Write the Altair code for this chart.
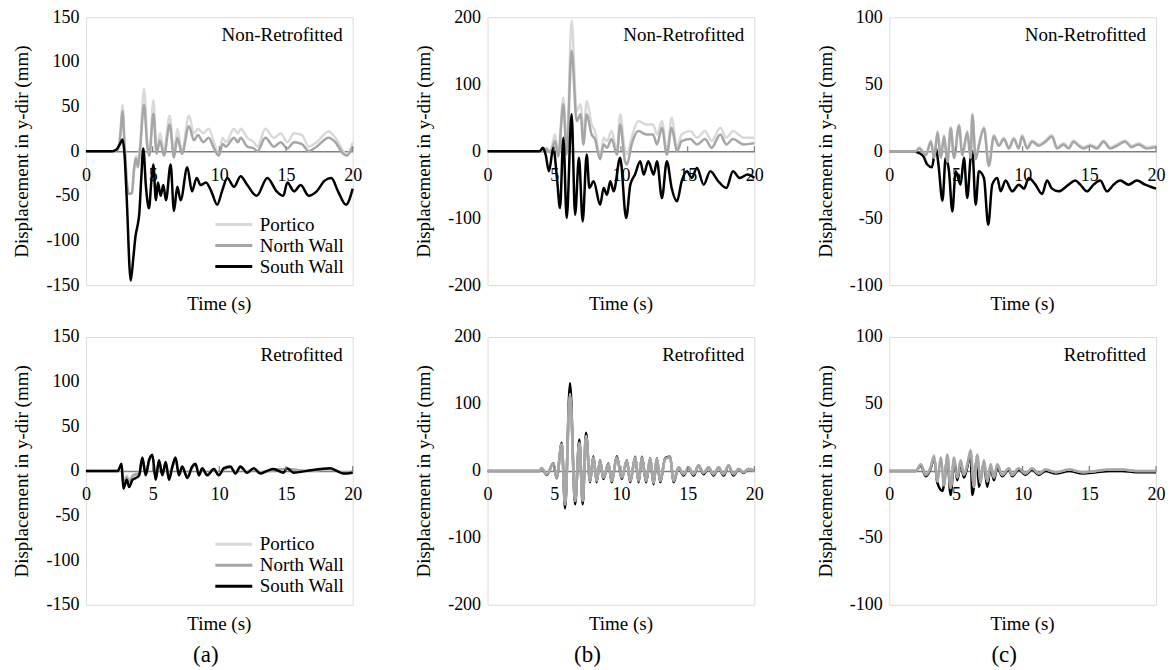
import altair as alt
import pandas as pd

FONT = "Liberation Serif, Times New Roman, serif"
SERIES = ["Portico", "North Wall", "South Wall"]
COLORS = ["#d9d9d9", "#a6a6a6", "#000000"]
TIME_TICKS = [0, 5, 10, 15, 20]
MINOR_TICKS = [5, 10, 15, 20]

Y_TICKS_A = [-150, -100, -50, 0, 50, 100, 150]
Y_TICKS_B = [-200, -100, 0, 100, 200]
Y_TICKS_C = [-100, -50, 0, 50, 100]

# ---------- (a) Non-Retrofitted ----------
A_TOP_PORTICO = [(0, 0), (2.0, 0), (2.4, 3), (2.6, 25), (2.74, 52), (2.9, 10), (3.1, -40), (3.24, -48), (3.45, -47),
                 (3.6, -20), (3.75, -5), (3.9, -15), (4.05, 5), (4.36, 70), (4.6, 10), (4.75, -5), (5.06, 57), (5.3, 0),
                 (5.55, 20), (5.85, 0), (6.28, 40), (6.6, -5), (6.85, 25), (7.2, 0), (7.72, 40), (8.1, 20), (8.4, 25),
                 (8.8, 20), (9.2, 25), (9.6, 10), (9.96, -5), (10.25, 15), (10.5, 10), (11.1, 25), (11.4, 20), (11.6, 25),
                 (12.1, 15), (12.6, 10), (12.85, 5), (13.45, 25), (14.1, 15), (14.6, 20), (15.1, 10), (15.6, 20),
                 (16.2, 18), (16.7, 5), (17.3, 10), (18.2, 22), (18.7, 15), (19.3, 0), (19.55, -5), (20, 10)]
A_TOP_NORTH = [(0, 0), (2.0, 0), (2.4, 2), (2.6, 20), (2.74, 45), (2.9, 5), (3.1, -40), (3.24, -48), (3.45, -47),
               (3.6, -22), (3.75, -8), (3.9, -18), (4.05, 0), (4.36, 52), (4.6, 5), (4.75, -5), (5.06, 42), (5.3, -3),
               (5.55, 12), (5.85, -5), (6.28, 30), (6.6, -7), (6.85, 15), (7.2, -3), (7.72, 28), (8.1, 12), (8.4, 18),
               (8.8, 10), (9.2, 15), (9.6, 3), (9.96, -5), (10.25, 8), (10.5, 5), (11.1, 15), (11.4, 10), (11.6, 15),
               (12.1, 5), (12.6, 3), (12.85, 0), (13.45, 15), (14.1, 5), (14.6, 10), (15.1, 3), (15.6, 10),
               (16.2, 8), (16.7, 0), (17.3, 5), (18.2, 15), (18.7, 10), (19.3, -3), (19.55, -5), (20, 5)]
A_TOP_SOUTH = [(0, 0), (1.0, 0), (2.0, 0), (2.3, 2), (2.55, 8), (2.74, 13), (2.9, -5), (3.05, -50), (3.36, -145),
               (3.55, -120), (3.72, -95), (3.85, -85), (4.0, -70), (4.15, -30), (4.3, 3), (4.5, -40), (4.73, -64),
               (4.9, -35), (5.05, -15), (5.25, -55), (5.4, -35), (5.6, -50), (5.8, -38), (6.0, -55), (6.35, -15),
               (6.6, -67), (6.85, -40), (7.1, -55), (7.6, -18), (7.95, -45), (8.3, -30), (8.6, -38), (9.0, -35),
               (9.4, -45), (9.84, -60), (10.2, -45), (10.6, -30), (11.1, -40), (11.6, -28), (12.1, -38), (12.8, -50),
               (13.6, -30), (14.3, -45), (14.8, -50), (15.1, -35), (15.6, -45), (16.1, -38), (16.7, -50), (17.3, -45),
               (17.9, -33), (18.4, -30), (18.9, -45), (19.5, -60), (20, -42)]

# ---------- (b) Non-Retrofitted ----------
B_TOP_PORTICO = [(0, 0), (3.9, 0), (4.4, 5), (4.7, 0), (5.06, 25), (5.3, -5), (5.68, 80), (5.93, 0), (6.3, 195),
                 (6.68, 60), (6.98, 70), (7.18, 20), (7.43, 75), (7.8, 40), (8.05, 30), (8.44, -10), (8.7, 20),
                 (8.95, 15), (9.3, 30), (9.7, 0), (9.94, 55), (10.3, 0), (10.45, -5), (10.8, 20), (11.3, 45),
                 (11.9, 40), (12.4, 40), (12.7, 25), (13.07, 45), (13.44, 0), (13.8, 50), (14.2, 5), (14.55, 25),
                 (15.2, 30), (15.7, 20), (16.3, 30), (16.8, 15), (17.45, 35), (17.9, 20), (18.4, 30), (19.2, 20), (20, 20)]
B_TOP_NORTH = [(0, 0), (3.9, 0), (4.4, 3), (4.7, -2), (5.06, 15), (5.3, -8), (5.68, 70), (5.93, -5), (6.3, 150),
               (6.68, 45), (6.98, 55), (7.18, 10), (7.43, 55), (7.8, 25), (8.05, 18), (8.44, -12), (8.7, 10),
               (8.95, 5), (9.3, 18), (9.7, -5), (9.94, 40), (10.3, -15), (10.45, -20), (10.8, 10), (11.3, 30),
               (11.9, 25), (12.4, 25), (12.7, 10), (13.07, 35), (13.44, -5), (13.8, 35), (14.2, 0), (14.55, 15),
               (15.2, 18), (15.7, 10), (16.3, 18), (16.8, 5), (17.45, 25), (17.9, 10), (18.4, 18), (19.2, 10), (20, 12)]
B_TOP_SOUTH = [(0, 0), (3.9, 0), (4.15, 5), (4.35, -5), (4.6, -30), (4.93, 5), (5.2, -40), (5.43, -85), (5.68, 20),
               (5.93, -100), (6.3, 55), (6.56, -95), (6.85, -10), (7.13, -105), (7.43, -5), (7.63, -55), (7.95, -45),
               (8.44, -80), (8.7, -55), (8.95, -65), (9.2, -45), (9.45, -60), (9.94, -10), (10.39, -100), (10.7, -50),
               (11.05, -35), (11.45, -15), (11.7, -35), (12.05, -15), (12.45, -35), (12.7, -15), (13.07, -70),
               (13.44, -15), (13.8, -55), (14.2, -75), (14.55, -45), (14.95, -30), (15.3, -40), (15.7, -25),
               (16.2, -50), (16.7, -30), (17.3, -45), (17.9, -55), (18.4, -30), (18.9, -40), (19.5, -35), (20, -40)]

# ---------- (c) Non-Retrofitted ----------
C_TOP_PORTICO = [(0, 0), (2.0, 0), (2.25, 3), (2.75, -3), (3.12, 8), (3.37, -5), (3.62, 15), (3.87, -5), (4.11, 12),
                 (4.36, -8), (4.61, 18), (4.86, -5), (5.23, 20), (5.48, -3), (5.85, 15), (6.1, -5), (6.23, 28),
                 (6.48, -5), (6.72, 5), (7.1, 18), (7.47, -10), (7.84, 12), (8.22, 5), (8.59, 10), (8.97, 3),
                 (9.34, 10), (9.71, 3), (9.96, 12), (10.34, 3), (10.71, 8), (11.21, 5), (11.71, 8), (12.2, 12),
                 (12.58, 3), (13.07, 6), (13.45, 3), (13.82, 8), (14.2, 5), (14.57, 3), (15.07, 5), (15.57, 3),
                 (16.07, 8), (16.56, 3), (17.06, 5), (17.68, 8), (18.18, 4), (18.68, 6), (19.3, 3), (20, 4)]
C_TOP_NORTH = [(0, 0), (2.0, 0), (2.25, 2), (2.75, -3), (3.12, 7), (3.37, -5), (3.62, 14), (3.87, -5), (4.11, 11),
               (4.36, -8), (4.61, 17), (4.86, -5), (5.23, 19), (5.48, -3), (5.85, 14), (6.1, -5), (6.23, 27),
               (6.48, -6), (6.72, 4), (7.1, 17), (7.47, -11), (7.84, 11), (8.22, 4), (8.59, 9), (8.97, 2),
               (9.34, 9), (9.71, 2), (9.96, 11), (10.34, 2), (10.71, 7), (11.21, 4), (11.71, 7), (12.2, 11),
               (12.58, 2), (13.07, 5), (13.45, 2), (13.82, 7), (14.2, 4), (14.57, 2), (15.07, 4), (15.57, 2),
               (16.07, 7), (16.56, 2), (17.06, 4), (17.68, 7), (18.18, 3), (18.68, 5), (19.3, 2), (20, 3)]
C_TOP_SOUTH = [(0, 0), (1.7, 0), (2.5, -3), (2.85, -10), (3.2, -12), (3.49, 3), (3.69, -10), (3.99, -37), (4.23, -5),
               (4.48, -15), (4.73, -45), (4.98, -15), (5.35, -25), (5.6, -5), (5.85, -35), (6.1, -5), (6.23, 0),
               (6.48, -40), (6.72, -15), (7.1, -20), (7.42, -55), (7.72, -25), (8.1, -20), (8.35, -30), (8.72, -22),
               (9.22, -30), (9.72, -25), (10.1, -28), (10.46, -20), (10.96, -25), (11.46, -32), (11.83, -22),
               (12.2, -28), (12.7, -30), (13.45, -25), (13.95, -22), (14.32, -25), (14.82, -30), (15.32, -25),
               (15.82, -22), (16.32, -30), (16.82, -25), (17.32, -22), (17.94, -25), (18.56, -22), (19.18, -25), (20, -28)]

# ---------- (a) Retrofitted ----------
A_BOT_PORTICO = [(0, 0), (2.4, 0), (2.67, 6), (2.81, -12), (3.06, -5), (3.24, -10), (3.49, -5), (3.74, -3), (3.99, -2),
                 (4.23, 13), (4.48, -4), (4.73, 10), (4.98, 16), (5.23, -8), (5.48, 10), (5.73, -4), (5.98, 9),
                 (6.23, -8), (6.48, 4), (6.72, 13), (6.97, -4), (7.22, 4), (7.6, -6), (7.97, 4), (8.22, 7), (8.47, -4),
                 (8.72, 2), (9.09, -4), (9.59, 2), (9.96, -4), (10.34, 2), (10.83, 4), (11.21, -2), (11.58, 4),
                 (12.08, -2), (12.58, 2), (13.07, -2), (14.07, 1), (15.07, 2), (16.56, 0), (18.31, 2), (19.3, -2), (20, -1)]
A_BOT_NORTH = [(0, 0), (2.4, 0), (2.67, 7), (2.81, -15), (3.06, -7), (3.24, -12), (3.49, -6), (3.74, -4), (3.99, -3),
               (4.23, 14), (4.48, -4), (4.73, 11), (4.98, 17), (5.23, -9), (5.48, 11), (5.73, -4), (5.98, 9),
               (6.23, -9), (6.48, 4), (6.72, 14), (6.97, -4), (7.22, 4), (7.6, -7), (7.97, 4), (8.22, 7), (8.47, -4),
               (8.72, 2), (9.09, -4), (9.59, 2), (9.96, -4), (10.34, 2), (10.83, 4), (11.21, -2), (11.58, 4),
               (12.08, -2), (12.58, 2), (13.07, -2), (14.07, 1), (15.07, 2), (16.56, 0), (18.31, 2), (19.3, -2), (20, -1)]
A_BOT_SOUTH = [(0, 0), (2.4, 0), (2.5, 3), (2.67, 8), (2.81, -20), (3.06, -10), (3.24, -18), (3.49, -10), (3.74, -8),
               (3.99, -5), (4.23, 15), (4.48, -5), (4.73, 12), (4.98, 18), (5.23, -10), (5.48, 12), (5.73, -5),
               (5.98, 10), (6.23, -10), (6.48, 5), (6.72, 15), (6.97, -5), (7.22, 5), (7.6, -8), (7.97, 5), (8.22, 8),
               (8.47, -5), (8.72, 3), (9.09, -5), (9.59, 2), (9.96, -5), (10.34, 3), (10.83, 5), (11.21, -3),
               (11.58, 5), (12.08, -2), (12.58, 3), (13.07, -3), (13.57, 0), (14.07, 2), (14.82, -2), (15.07, 3),
               (15.57, -2), (16.56, 0), (17.56, 2), (18.31, 3), (18.81, 0), (19.3, -3), (20, -2)]

# ---------- (b) Retrofitted ----------
B_BOT_PORTICO = [(0, 0), (3.9, 0), (4.05, 4), (4.43, -5), (4.93, 10), (5.18, -10), (5.56, 40), (5.81, -50), (6.18, 115),
                 (6.56, -45), (6.88, 42), (7.13, -45), (7.38, 52), (7.68, -15), (7.93, 20), (8.18, -15), (8.43, 15),
                 (8.68, -10), (9.06, 10), (9.31, -15), (9.69, 20), (10.06, -10), (10.44, 15), (10.69, -15), (11.07, 20),
                 (11.32, -15), (11.57, 20), (11.89, -15), (12.19, 18), (12.44, -18), (12.69, 18), (12.94, -15),
                 (13.32, 18), (13.69, 20), (13.94, -15), (14.32, 5), (14.69, -5), (15.07, 5), (15.44, -5), (15.82, 8),
                 (16.19, -3), (16.57, 5), (16.94, -5), (17.32, 5), (17.69, -5), (18.07, 8), (18.44, -5), (18.82, 3),
                 (19.19, -2), (19.57, 3), (20, 0)]
B_BOT_NORTH = [(0, 0), (3.9, 0), (4.05, 4), (4.43, -5), (4.93, 10), (5.18, -10), (5.56, 40), (5.81, -50), (6.18, 113),
               (6.56, -45), (6.88, 42), (7.13, -45), (7.38, 50), (7.68, -15), (7.93, 20), (8.18, -15), (8.43, 15),
               (8.68, -10), (9.06, 10), (9.31, -15), (9.69, 20), (10.06, -10), (10.44, 15), (10.69, -15), (11.07, 20),
               (11.32, -15), (11.57, 20), (11.89, -15), (12.19, 18), (12.44, -18), (12.69, 18), (12.94, -15),
               (13.32, 18), (13.69, 20), (13.94, -15), (14.32, 5), (14.69, -5), (15.07, 5), (15.44, -5), (15.82, 8),
               (16.19, -3), (16.57, 5), (16.94, -5), (17.32, 5), (17.69, -5), (18.07, 8), (18.44, -5), (18.82, 3),
               (19.19, -2), (19.57, 3), (20, 0)]
B_BOT_SOUTH = [(0, 0), (3.9, 0), (4.05, 4), (4.43, -6), (4.93, 11), (5.18, -11), (5.56, 42), (5.81, -56), (6.18, 131),
               (6.56, -50), (6.88, 47), (7.13, -50), (7.38, 57), (7.68, -17), (7.93, 22), (8.18, -17), (8.43, 16),
               (8.68, -12), (9.06, 11), (9.31, -17), (9.69, 22), (10.06, -12), (10.44, 16), (10.69, -17), (11.07, 21),
               (11.32, -17), (11.57, 21), (11.89, -17), (12.19, 19), (12.44, -20), (12.69, 19), (12.94, -17),
               (13.32, 19), (13.69, 21), (13.94, -17), (14.32, 5), (14.69, -7), (15.07, 5), (15.44, -7), (15.82, 8),
               (16.19, -5), (16.57, 5), (16.94, -7), (17.32, 5), (17.69, -7), (18.07, 8), (18.44, -7), (18.82, 3),
               (19.19, -3), (19.57, 3), (20, 0)]

# ---------- (c) Retrofitted ----------
C_BOT_PORTICO = [(0, 0), (2.0, 0), (2.37, 5), (2.74, -3), (3.11, 3), (3.36, 12), (3.61, -8), (3.86, 10), (4.11, -10),
                 (4.36, 12), (4.6, -12), (4.86, 10), (5.1, -5), (5.35, 8), (5.6, -3), (5.85, 5), (6.1, 16), (6.35, -12),
                 (6.6, 12), (6.85, -8), (7.1, 8), (7.35, -8), (7.6, 5), (7.85, -5), (8.1, 5), (8.47, -3), (8.97, 2),
                 (9.22, -3), (9.71, 2), (10.21, -2), (10.71, 2), (11.21, -2), (11.71, 1), (12.5, -1), (13.5, 1),
                 (14.5, -1), (15.5, 0), (16.5, 1), (17.5, 1), (18.5, 0), (20, 0)]
C_BOT_NORTH = [(0, 0), (2.0, 0), (2.37, 5), (2.74, -3), (3.11, 3), (3.36, 11), (3.61, -8), (3.86, 10), (4.11, -11),
               (4.36, 12), (4.6, -13), (4.86, 10), (5.1, -5), (5.35, 8), (5.6, -3), (5.85, 5), (6.1, 15), (6.35, -12),
               (6.6, 12), (6.85, -9), (7.1, 8), (7.35, -8), (7.6, 5), (7.85, -5), (8.1, 5), (8.47, -3), (8.97, 2),
               (9.22, -3), (9.71, 2), (10.21, -2), (10.71, 2), (11.21, -2), (11.71, 1), (12.5, -1), (13.5, 1),
               (14.5, -1), (15.5, 0), (16.5, 1), (17.5, 1), (18.5, 0), (20, 0)]
C_BOT_SOUTH = [(0, 0), (2.0, 0), (2.37, 4), (2.74, -4), (3.11, 2), (3.36, 10), (3.61, -9), (3.99, -15), (4.11, -10),
               (4.36, 10), (4.6, -18), (4.86, 8), (5.1, -7), (5.35, 6), (5.6, -5), (5.85, 3), (6.1, 13), (6.23, -18),
               (6.6, 10), (6.72, -12), (7.1, 6), (7.35, -12), (7.6, 3), (7.85, -7), (8.1, 3), (8.47, -4), (8.97, 1),
               (9.22, -4), (9.71, 1), (10.21, -3), (10.71, 1), (11.21, -3), (11.71, 0), (12.5, -2), (13.5, 0),
               (14.5, -2), (15.5, -1), (16.5, 0), (17.5, 0), (18.5, -1), (20, -1)]

W, H = 267, 268
HYPHEN_LABEL = "'' + datum.value"


def panel(series, order, ymax, yticks, state, show_legend, letter=None):
    x_axis = alt.Axis(values=TIME_TICKS, offset=-H / 2, title=None, grid=False, ticks=False,
                      labelFont=FONT, labelFontSize=18, labelColor="black", labelPadding=15,
                      labelFlush=False, labelOverlap=False, domainColor="#808080", domainWidth=1.5)
    y_axis = alt.Axis(values=yticks, title="Displacement in y-dir (mm)", grid=False, domain=False,
                      ticks=False, labelFont=FONT, labelFontSize=18, labelColor="black", labelPadding=7,
                      labelOverlap=False, labelExpr=HYPHEN_LABEL, titleFont=FONT, titleFontSize=19,
                      titleFontWeight="normal", titleColor="black", titlePadding=14)
    if show_legend:
        legend = alt.Legend(title=None, orient="bottom-right", offset=8, symbolType="M-7,0H0.4",
                            symbolSize=100, symbolStrokeWidth=3, labelFont=FONT, labelFontSize=19,
                            labelColor="black", rowPadding=1, labelOffset=0, padding=0)
    else:
        legend = None
    layers = []
    for name in order:
        df = pd.DataFrame(series[name], columns=["t", "v"])
        df["s"] = name
        layers.append(
            alt.Chart(df).mark_line(strokeWidth=2.5, interpolate="monotone").encode(
                x=alt.X("t:Q", scale=alt.Scale(domain=[0, 20], nice=False, zero=False), axis=x_axis),
                y=alt.Y("v:Q", scale=alt.Scale(domain=[-ymax, ymax], nice=False), axis=y_axis),
                color=alt.Color("s:N", scale=alt.Scale(domain=SERIES, range=COLORS), legend=legend),
            )
        )
    ticks = alt.Chart(pd.DataFrame({"t": MINOR_TICKS})).mark_rule(color="#808080", strokeWidth=1.2).encode(
        x="t:Q", y=alt.value(H / 2), y2=alt.value(H / 2 - 5))
    state_txt = alt.Chart(pd.DataFrame({"txt": [state]})).mark_text(
        align="right", baseline="middle", font=FONT, fontSize=19, color="black").encode(
        x=alt.value(W - 10), y=alt.value(18), text="txt:N")
    time_txt = alt.Chart(pd.DataFrame({"txt": ["Time (s)"]})).mark_text(
        align="center", baseline="middle", font=FONT, fontSize=19, color="black").encode(
        x=alt.value(W / 2), y=alt.value(H + 19), text="txt:N")
    parts = layers + [ticks, state_txt, time_txt]
    if letter is not None:
        parts.append(alt.Chart(pd.DataFrame({"txt": [letter[0]]})).mark_text(
            align="center", baseline="middle", font=FONT, fontSize=23, color="black").encode(
            x=alt.value(letter[1]), y=alt.value(H + 50), text="txt:N"))
    return alt.layer(*parts).properties(width=W, height=H)


top_order = ["Portico", "North Wall", "South Wall"]
bot_order_gray_front = ["South Wall", "Portico", "North Wall"]

p1 = panel({"Portico": A_TOP_PORTICO, "North Wall": A_TOP_NORTH, "South Wall": A_TOP_SOUTH},
           top_order, 150, Y_TICKS_A, "Non-Retrofitted", True)
p2 = panel({"Portico": B_TOP_PORTICO, "North Wall": B_TOP_NORTH, "South Wall": B_TOP_SOUTH},
           top_order, 200, Y_TICKS_B, "Non-Retrofitted", False)
p3 = panel({"Portico": C_TOP_PORTICO, "North Wall": C_TOP_NORTH, "South Wall": C_TOP_SOUTH},
           ["South Wall", "Portico", "North Wall"], 100, Y_TICKS_C, "Non-Retrofitted", False)
p4 = panel({"Portico": A_BOT_PORTICO, "North Wall": A_BOT_NORTH, "South Wall": A_BOT_SOUTH},
           top_order, 150, Y_TICKS_A, "Retrofitted", True, ("(a)", 120))
p5 = panel({"Portico": B_BOT_PORTICO, "North Wall": B_BOT_NORTH, "South Wall": B_BOT_SOUTH},
           bot_order_gray_front, 200, Y_TICKS_B, "Retrofitted", False, ("(b)", 100))
p6 = panel({"Portico": C_BOT_PORTICO, "North Wall": C_BOT_NORTH, "South Wall": C_BOT_SOUTH},
           bot_order_gray_front, 100, Y_TICKS_C, "Retrofitted", False, ("(c)", 115))

chart = alt.concat(p1, p2, p3, p4, p5, p6, columns=3, bounds="flush",
                   spacing={"row": 52, "column": 135}).resolve_scale(
    color="independent", x="independent", y="independent").resolve_legend(
    color="independent").properties(
    padding={"left": 12, "top": 7, "right": 5, "bottom": 5}
).configure_view(stroke="#222222", strokeWidth=1).configure(background="white")

chart.save("out.html", embed_options={"renderer": "svg", "actions": False})
